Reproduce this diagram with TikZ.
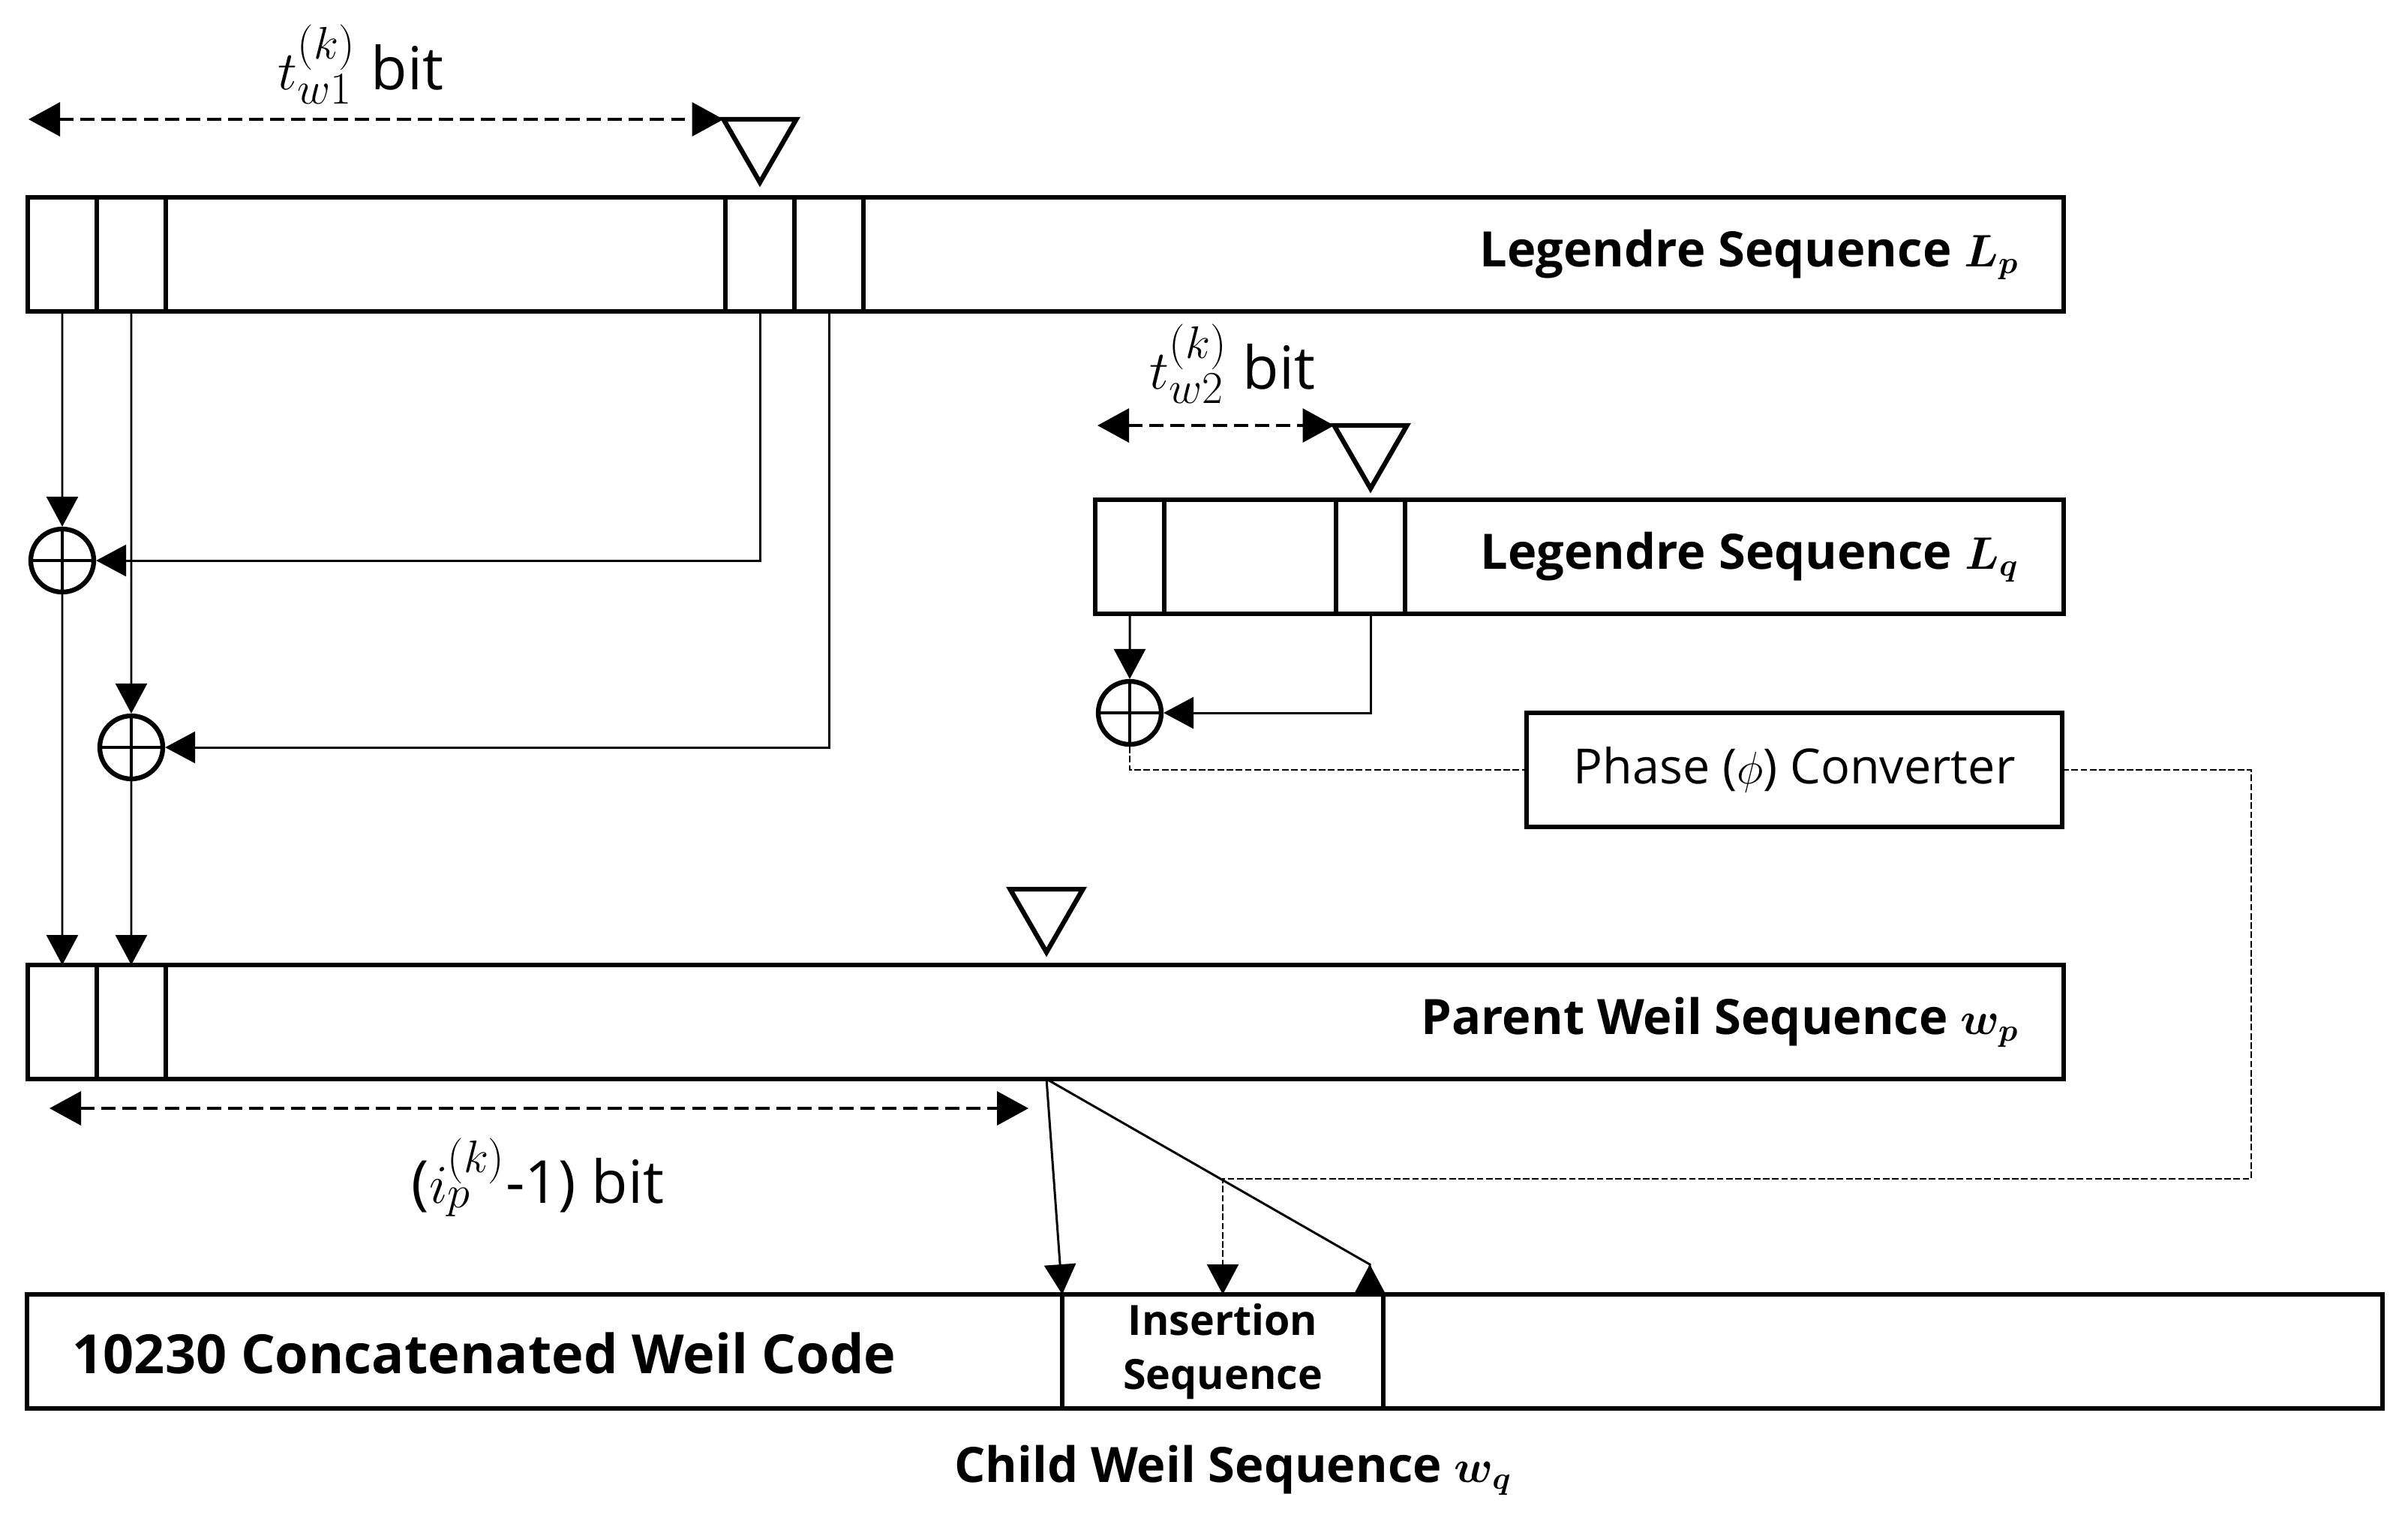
\documentclass[tikz,border=0pt]{standalone}
\usepackage{fontspec}
\setmainfont{Open Sans}
\usetikzlibrary{arrows.meta, positioning, shapes.geometric}
\DeclareMathSizes{22.5}{22.5}{16.5}{12}

\begin{document}
\begin{tikzpicture}[
    seq/.style={
        draw,
        rectangle,
        line width=1.8pt,
        minimum height=1.52cm,
        inner sep=0pt,
        outer sep=0pt,
        anchor=north west
    },
    cell/.style={
        seq,
        minimum width=0.92cm
    },
    seqlabel/.style={
        font=\fontsize{18.5}{22}\selectfont\bfseries\boldmath,
        inner sep=0pt
    },
    bitlabel/.style={
        font=\fontsize{22.5}{26}\selectfont,
        inner sep=0pt,
        anchor=base
    },
    cursor/.style={
        draw,
        regular polygon,
        regular polygon sides=3,
        shape border rotate=180,
        minimum size=1.12cm,
        inner sep=0pt,
        outer sep=0pt,
        line width=1.8pt
    },
    xor/.style={
        draw,
        circle,
        line width=1.8pt,
        minimum size=0.84cm,
        inner sep=0pt,
        path picture={
            \draw[line width=1.4pt] (path picture bounding box.north) -- (path picture bounding box.south)
                (path picture bounding box.west) -- (path picture bounding box.east);
        }
    },
    conn/.style={
        -{Triangle[length=0.4cm, width=0.42cm]},
        line width=0.85pt
    },
    span/.style={
        {Triangle[length=0.42cm, width=0.45cm]}-{Triangle[length=0.42cm, width=0.45cm]},
        line width=1pt,
        dash pattern=on 5.4pt off 2.6pt
    },
    link/.style={
        line width=0.6pt,
        dash pattern=on 2.5pt off 1pt
    }
]
\useasboundingbox (0,0) rectangle (32.10,-20.22);

% Legendre sequence L_p
\node[seq, minimum width=27.14cm] (lp) at (0.37,-2.63) {};
\node[cell] (lp1) at (lp.north west) {};
\node[cell, right=0pt of lp1] (lp2) {};
\node[cell] (lp3) at (9.67,-2.63) {};
\node[cell, right=0pt of lp3] (lp4) {};
\node[seqlabel, left=0.59cm of lp.east] {Legendre Sequence $L_p$};
\node[cursor] (m1) at (10.13,-1.87) {};
\coordinate (t1s) at (0.38,-1.59);
\draw[span] (t1s) -- (m1.corner 3);
\node[bitlabel] (t1lab) at (4.81,-1.19) {$t_{w1}^{(k)}$ bit};

% Legendre sequence L_q
\node[seq, minimum width=12.91cm] (lq) at (14.60,-6.66) {};
\node[cell] (lq1) at (lq.north west) {};
\node[cell] (lq2) at (17.81,-6.66) {};
\node[seqlabel, left=0.59cm of lq.east] {Legendre Sequence $L_q$};
\node[cursor] (m2) at (18.27,-5.95) {};
\coordinate (t2s) at (14.63,-5.67);
\draw[span] (t2s) -- (m2.corner 3);
\node[bitlabel] (t2lab) at (16.43,-5.18) {$t_{w2}^{(k)}$ bit};

% XOR stages
\node[xor] (x1) at (0.83,-7.47) {};
\node[xor] (x2) at (1.75,-9.96) {};
\node[xor] (x3) at (15.06,-9.50) {};

\node[seq, minimum width=7.14cm, font=\fontsize{18.4}{21}\selectfont] (pc) at (20.35,-9.50) {Phase ($\phi$) Converter};

% Parent Weil sequence
\node[seq, minimum width=27.14cm] (pw) at (0.37,-12.86) {};
\node[cell] (pw1) at (pw.north west) {};
\node[cell, right=0pt of pw1] (pw2) {};
\node[seqlabel, left=0.59cm of pw.east] {Parent Weil Sequence $w_p$};
\node[cursor] (m3) at (13.95,-12.13) {};
\coordinate (ps) at (0.66,-14.77);
\coordinate (pe) at (13.71,-14.77);
\draw[span] (ps) -- (pe);
\node[bitlabel] (ilab) at (7.17,-16.03) {($i_p^{(k)}$-1) bit};

% Child Weil sequence
\node[seq, minimum width=31.40cm] (cw) at (0.36,-17.25) {};
\node[seq, minimum width=4.28cm, align=center, font=\fontsize{15.8}{20.5}\selectfont\bfseries] (ins) at (14.16,-17.25) {Insertion\\Sequence};
\node[seqlabel, font=\fontsize{20.5}{24}\selectfont\bfseries, anchor=west] (cwtext) at (0.96,-18.03) {10230 Concatenated Weil Code};
\node[seqlabel, anchor=base] (cwlab) at (16.44,-19.75) {Child Weil Sequence $w_q$};

% Connections
\draw[conn] (lp1.south) -- (x1.north);
\draw[conn] (lp3.south) |- (x1.east);
\draw[conn] (lp2.south) -- (x2.north);
\draw[conn] (lp4.south) |- (x2.east);
\draw[conn] (x1.south) -- (pw1.north);
\draw[conn] (x2.south) -- (pw2.north);
\draw[conn] (lq1.south) -- (x3.north);
\draw[conn] (lq2.south) |- (x3.east);

\coordinate (split) at (pw.south -| m3.center);
\coordinate (dtip) at ([xshift=-0.18cm]ins.north east);
\draw[conn] (split) -- (ins.north west);
\draw[line width=0.85pt, -{Triangle[reversed, length=0.4cm, width=0.42cm]}] (split) -- ([yshift=0.4cm]dtip) -- (dtip);

% Phase path (dashed)
\coordinate (bend) at (30.01,-15.71);
\draw[link] (x3.south) |- (pc.west);
\draw[link, -{Triangle[length=0.4cm, width=0.42cm]}] (pc.east) -| (bend) -| (ins.north);

\end{tikzpicture}
\end{document}
